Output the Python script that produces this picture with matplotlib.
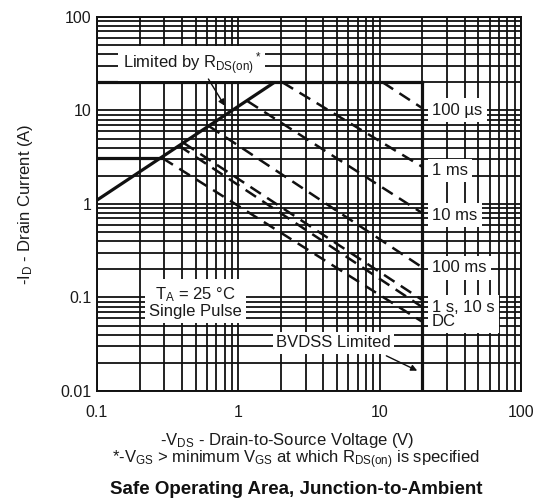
import numpy as np
import matplotlib
matplotlib.use("Agg")
import matplotlib.pyplot as plt
from matplotlib.ticker import LogLocator, NullFormatter, FixedLocator, FixedFormatter

plt.rcParams['font.family'] = ['Liberation Sans', 'DejaVu Sans']
plt.rcParams['mathtext.default'] = 'regular'

# Axis ticks
x_ticks = [0.1, 1, 10, 100]
x_tick_labels = ['0.1', '1', '10', '100']
y_ticks = [0.01, 0.1, 1, 10, 100]
y_tick_labels = ['0.01', '0.1', '1', '10', '100']

# R_DS(on) limit line (V, A)
rds_v = [0.1, 1.8]
rds_i = [1.1, 20]

# Current / voltage limits
pulse_current_limit = 20.0
dc_current_limit = 3.1
dc_limit_v_end = 0.29
bvdss = 20.0

# Single pulse boundaries: start point and current at V = BVDSS
pulse_names = ['100 µs', '1 ms', '10 ms', '100 ms', '1 s', '10 s', 'DC']
pulse_v_start = [10.5, 2.05, 1.16, 0.62, 0.41, 0.38, 0.29]
pulse_i_start = [20, 20, 12.6, 6.8, 4.5, 4.2, 3.1]
pulse_i_end = [10.6, 2.5, 0.8, 0.21, 0.094, 0.079, 0.055]

# Curve labels on the right of the BVDSS line
label_text = ['100 µs', '1 ms', '10 ms', '100 ms', '1 s, 10 s\nDC']
label_y = [10.1, 2.3, 0.76, 0.207, 0.066]

fs = 12
ink = '#1a1a1a'

fig = plt.figure(figsize=(5.47, 5.03), dpi=100)
ax = fig.add_axes([0.1773, 0.2227, 0.7752, 0.7435])
ax.set_xscale('log')
ax.set_yscale('log')
ax.set_xlim(0.1, 100)
ax.set_ylim(0.01, 100)

ax.xaxis.set_major_locator(FixedLocator(x_ticks))
ax.xaxis.set_major_formatter(FixedFormatter(x_tick_labels))
ax.yaxis.set_major_locator(FixedLocator(y_ticks))
ax.yaxis.set_major_formatter(FixedFormatter(y_tick_labels))
ax.xaxis.set_minor_locator(LogLocator(base=10, subs=np.arange(2, 10)))
ax.yaxis.set_minor_locator(LogLocator(base=10, subs=np.arange(2, 10)))
ax.xaxis.set_minor_formatter(NullFormatter())
ax.yaxis.set_minor_formatter(NullFormatter())
ax.tick_params(which='both', length=0, labelsize=11.5, colors=ink)
ax.tick_params(axis='x', pad=10)
ax.tick_params(axis='y', pad=4)

ax.grid(which='both', color='#111111', lw=1.3)
ax.set_axisbelow(True)
for s in ax.spines.values():
    s.set_color('#111111')
    s.set_linewidth(1.4)

# limit lines
lw_lim = 2.3
ax.plot(rds_v, rds_i, color='#111111', lw=lw_lim, solid_capstyle='butt', zorder=3)
ax.plot([0.1, bvdss], [pulse_current_limit] * 2, color='#111111', lw=lw_lim, zorder=3)
ax.plot([0.1, dc_limit_v_end], [dc_current_limit] * 2, color='#111111', lw=lw_lim, zorder=3)
ax.plot([bvdss, bvdss], [0.01, pulse_current_limit], color='#111111', lw=lw_lim, zorder=3)

# pulse boundaries
for vs, i0, i1 in zip(pulse_v_start, pulse_i_start, pulse_i_end):
    ax.plot([vs, bvdss], [i0, i1], color='#111111', lw=1.8, dashes=(5, 3),
            dash_capstyle='butt', zorder=3)

for txt, y in zip(label_text, label_y):
    ax.text(23.5, y, txt, fontsize=fs, ha='left', va='center', color=ink,
            bbox=dict(facecolor='white', edgecolor='none', pad=3), zorder=4,
            linespacing=0.95)

ax.text(0.47, 32, 'Limited by R$_{DS(on)}$$^*$', fontsize=fs, ha='center', va='center',
        color=ink, bbox=dict(facecolor='white', edgecolor='none', pad=3), zorder=4)
ax.annotate('', xy=(0.82, 10.6), xytext=(0.6, 23),
            arrowprops=dict(arrowstyle='-|>', color='#111111', lw=1.0,
                            mutation_scale=9), zorder=5)

ax.text(0.495, 0.0895, 'T$_A$ = 25 °C\nSingle Pulse', fontsize=fs, ha='center', va='center',
        color=ink, bbox=dict(facecolor='white', edgecolor='none', pad=3),
        zorder=4, linespacing=1.0)

ax.text(4.72, 0.0326, 'BVDSS Limited', fontsize=fs, ha='center', va='center',
        color=ink, bbox=dict(facecolor='white', edgecolor='none', pad=2.5), zorder=4)
ax.annotate('', xy=(19.2, 0.016), xytext=(10.7, 0.0245),
            arrowprops=dict(arrowstyle='-|>', color='#111111', lw=1.0,
                            mutation_scale=9), zorder=5)

fig.text(0.046, 0.593, '-I$_D$ - Drain Current (A)', rotation=90,
         fontsize=fs, ha='center', va='center', color=ink)
fig.text(0.525, 0.125, '-V$_{DS}$ - Drain-to-Source Voltage (V)', fontsize=fs,
         ha='center', va='center', color=ink)
fig.text(0.541, 0.0855, '*-V$_{GS}$ > minimum V$_{GS}$ at which R$_{DS(on)}$ is specified',
         fontsize=fs, ha='center', va='center', color=ink)
fig.text(0.541, 0.026, 'Safe Operating Area, Junction-to-Ambient', fontsize=13.5,
         fontweight='bold', ha='center', va='center', color='#111111')

fig.savefig('out.png', dpi=100)
